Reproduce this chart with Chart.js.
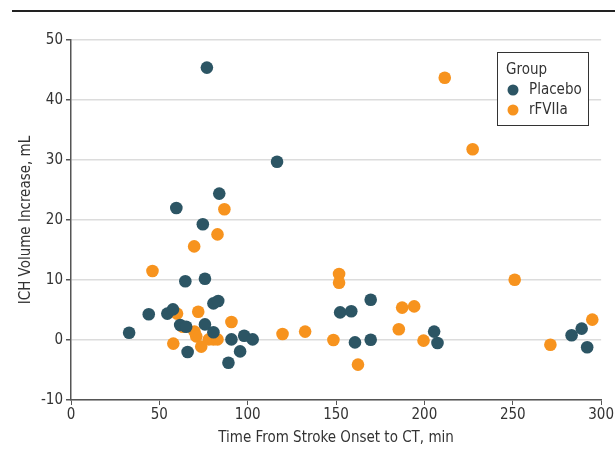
<!DOCTYPE html>
<html>
<head>
<meta charset="utf-8">
<script src="https://cdn.jsdelivr.net/npm/chart.js@4.4.1/dist/chart.umd.min.js"></script>
<style>
    html, body { margin: 0; padding: 0; background: #fff; }
    #wrap { width: 615px; height: 451px; position: relative; }
</style>
</head>
<body>
<div id="wrap"><canvas id="ich-chart"></canvas></div>
<script>
// values: minutes from onset, volume increase in mL
const placeboTime = [32.9, 44, 54.5, 57.7, 59.6, 74.6, 64.7, 75.8, 80.6, 83.3, 61.8, 65.2, 75.8, 80.6,
    66, 90.8, 89.1, 95.7, 98, 102.8, 76.9, 116.6, 83.9, 169.6, 152.3, 158.6, 160.7, 169.6, 205.5, 207.4,
    283.3, 289, 292.1];
const placeboVolume = [1.2, 4.3, 4.4, 5.1, 22, 19.3, 9.8, 10.2, 6.1, 6.5, 2.5, 2.2, 2.6, 1.3,
    -2.0, 0.1, -3.8, -1.9, 0.7, 0.1, 45.4, 29.7, 24.4, 6.7, 4.6, 4.8, -0.4, 0.05, 1.4, -0.5,
    0.8, 1.9, -1.2];

const rfviiaTime = [86.8, 82.9, 69.7, 46.1, 60, 72, 90.8, 63.3, 69.9, 70.9, 78, 80.6, 82.9, 73.7,
    57.9, 119.7, 132.5, 151.7, 151.7, 187.4, 194.2, 185.5, 148.5, 162.4, 199.5, 251.1, 271.3, 295,
    211.5, 227.3];
const rfviiaVolume = [21.8, 17.6, 15.6, 11.5, 4.4, 4.7, 3.0, 2.2, 1.4, 0.6, 0.1, 0.1, 0.1, -1.1,
    -0.6, 1.0, 1.4, 11.0, 9.55, 5.4, 5.6, 1.8, 0, -4.1, -0.1, 10.05, -0.8, 3.4,
    43.7, 31.8];

const xTicks = [0, 50, 100, 150, 200, 250, 300];
const yTicks = [-10, 0, 10, 20, 30, 40, 50];

const groupNames = ['Placebo', 'rFVIIa'];
const groupColors = ['#2c5564', '#f7931e'];

const fontName = "'DejaVu Sans Condensed', 'Liberation Sans Narrow', sans-serif";
const inkColor = '#333';

function toPoints(xs, ys) {
    return xs.map((x, i) => ({x: x, y: ys[i]}));
}

// top rule and the boxed "Group" legend
const decorPlugin = {
    id: 'decor',
    beforeDraw(chart) {
        const c = chart.ctx;
        c.save();
        c.fillStyle = '#fff';
        c.fillRect(0, 0, chart.width, chart.height);
        c.strokeStyle = '#222';
        c.lineWidth = 2;
        c.beginPath();
        c.moveTo(12, 11);
        c.lineTo(chart.width, 11);
        c.stroke();
        c.restore();
    },
    afterDraw(chart) {
        const c = chart.ctx;
        c.save();
        c.fillStyle = '#fff';
        c.fillRect(497, 52, 91, 73);
        c.strokeStyle = '#333';
        c.lineWidth = 1;
        c.strokeRect(497.5, 52.5, 91, 73);
        c.font = '15px ' + fontName;
        c.textBaseline = 'middle';
        c.fillStyle = inkColor;
        c.fillText('Group', 506, 70);
        groupNames.forEach((name, i) => {
            const y = 90 + i * 20;
            c.fillStyle = groupColors[i];
            c.beginPath();
            c.arc(513, y, 5.5, 0, Math.PI * 2);
            c.fill();
            c.fillStyle = inkColor;
            c.fillText(name, 529, y);
        });
        c.restore();
    }
};

const ctx = document.getElementById('ich-chart').getContext('2d');
window.ichChart = new Chart(ctx, {
    type: 'scatter',
    data: {
        datasets: [{
            label: groupNames[0],
            data: toPoints(placeboTime, placeboVolume),
            backgroundColor: groupColors[0],
            borderWidth: 0,
            pointRadius: 6.3
        }, {
            label: groupNames[1],
            data: toPoints(rfviiaTime, rfviiaVolume),
            backgroundColor: groupColors[1],
            borderWidth: 0,
            pointRadius: 6.3
        }]
    },
    options: {
        responsive: true,
        maintainAspectRatio: false,
        animation: false,
        layout: {
            padding: {top: 40, right: 12, left: 13, bottom: 0}
        },
        plugins: {
            legend: {
                display: false
            },
            tooltip: {
                enabled: false
            }
        },
        scales: {
            x: {
                type: 'linear',
                min: 0,
                max: 300,
                afterBuildTicks: scale => { scale.ticks = xTicks.map(v => ({value: v})); },
                afterFit: scale => { scale.height = 51; },
                border: {color: '#555', width: 1.5},
                grid: {
                    drawOnChartArea: false,
                    tickColor: '#555',
                    tickLength: 5
                },
                ticks: {
                    color: inkColor,
                    font: {family: fontName, size: 15},
                    padding: 1
                },
                title: {
                    display: true,
                    text: 'Time From Stroke Onset to CT, min',
                    color: inkColor,
                    font: {family: fontName, size: 15},
                    padding: {top: 8}
                }
            },
            y: {
                type: 'linear',
                min: -10,
                max: 50,
                afterBuildTicks: scale => { scale.ticks = yTicks.map(v => ({value: v})); },
                afterFit: scale => { scale.width = 58; },
                border: {color: '#555', width: 1.5},
                grid: {
                    color: '#dcdcdc',
                    lineWidth: 1.5,
                    tickColor: '#555',
                    tickLength: 5
                },
                ticks: {
                    color: inkColor,
                    font: {family: fontName, size: 15},
                    padding: 3
                },
                title: {
                    display: true,
                    text: 'ICH Volume Increase, mL',
                    color: inkColor,
                    font: {family: fontName, size: 15},
                    padding: {bottom: 4}
                }
            }
        }
    },
    plugins: [decorPlugin]
});
</script>
</body>
</html>
